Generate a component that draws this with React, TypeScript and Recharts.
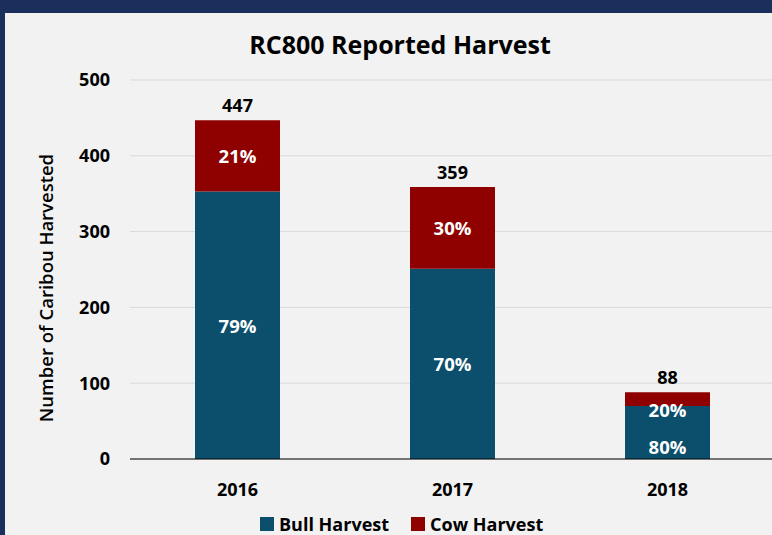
import React from "react";
import { BarChart, Bar, XAxis, YAxis, CartesianGrid, LabelList, Label } from "recharts";

const years = ["2016", "2017", "2018"];
const bullHarvest = [353, 251, 70];
const cowHarvest = [94, 108, 18];
const totals = [447, 359, 88];
const bullPct = ["79%", "70%", "80%"];
const cowPct = ["21%", "30%", "20%"];
const yTicks = [0, 100, 200, 300, 400, 500];

const BULL = "#0b4f6c";
const COW = "#8f0000";
const FONT = "'Open Sans', sans-serif";

const data = years.map((year, i) => ({
  year,
  bull: bullHarvest[i],
  cow: cowHarvest[i],
  total: totals[i],
  bullPct: bullPct[i],
  cowPct: cowPct[i],
}));

// Excel nudges the labels out of the way when a segment is too short
function PctLabel(props: any) {
  const { x, y, width, height, value, kind } = props;
  const cx = x + width / 2;
  let cy = y + height / 2;
  if (kind === "bull" && height < 80) cy = y + height - 13;
  if (kind === "cow" && height < 30) cy = y + height + 4;
  return (
    <text x={cx} y={cy} fill="#fff" fontSize={18.5} fontWeight={700} fontFamily={FONT}
      textAnchor="middle" dominantBaseline="central">
      {value}
    </text>
  );
}

function YTitle() {
  return (
    <text transform="translate(45,288) rotate(-90)" textAnchor="middle" dominantBaseline="central"
      fontSize={18.5} fontWeight={600} fontFamily={FONT} fill="#000">
      Number of Caribou Harvested
    </text>
  );
}

export default function App() {
  return (
    <div style={{ position: "absolute", left: 0, top: 0, width: 772, height: 535, background: "#1a2f5b", overflow: "hidden" }}>
      <div style={{ position: "absolute", left: 5, top: 13, width: 767, height: 522, background: "#f2f2f2" }} />
      <div style={{ position: "absolute", left: 0, top: 0, fontFamily: FONT }}>
        <BarChart width={785} height={535} data={data} barCategoryGap={65}
          margin={{ top: 80, right: 10, bottom: 46, left: 70 }}>
          <CartesianGrid vertical={false} stroke="#d9d9d9" />
          <XAxis dataKey="year" axisLine={{ stroke: "#000" }} tickLine={false} tickMargin={18}
            tick={{ fill: "#000", fontSize: 18, fontWeight: 700, fontFamily: FONT }} />
          <YAxis width={60} domain={[0, 500]} ticks={yTicks} axisLine={false} tickLine={false}
            tickSize={0} tickMargin={20}
            tick={{ fill: "#000", fontSize: 18, fontWeight: 700, fontFamily: FONT }}>
            <Label content={<YTitle />} />
          </YAxis>
          <Bar dataKey="bull" stackId="h" fill={BULL} isAnimationActive={false}>
            <LabelList dataKey="bullPct" content={<PctLabel kind="bull" />} />
          </Bar>
          <Bar dataKey="cow" stackId="h" fill={COW} isAnimationActive={false}>
            <LabelList dataKey="cowPct" content={<PctLabel kind="cow" />} />
            <LabelList dataKey="total" position="top" offset={8} fill="#000"
              style={{ fontSize: 18, fontWeight: 700, fontFamily: FONT }} />
          </Bar>
        </BarChart>
      </div>
      <div style={{ position: "absolute", left: 0, top: 27, width: 800, textAlign: "center", fontFamily: FONT,
        fontSize: 25, fontWeight: 700, color: "#000" }}>
        RC800 Reported Harvest
      </div>
      <div style={{ position: "absolute", left: 260, top: 512, display: "flex", alignItems: "center", fontFamily: FONT,
        fontSize: 18, fontWeight: 700, color: "#000", whiteSpace: "nowrap" }}>
        <span style={{ width: 14, height: 14, background: BULL, marginRight: 5 }} />
        <span style={{ marginRight: 22 }}>Bull Harvest</span>
        <span style={{ width: 14, height: 14, background: COW, marginRight: 5 }} />
        <span>Cow Harvest</span>
      </div>
    </div>
  );
}
